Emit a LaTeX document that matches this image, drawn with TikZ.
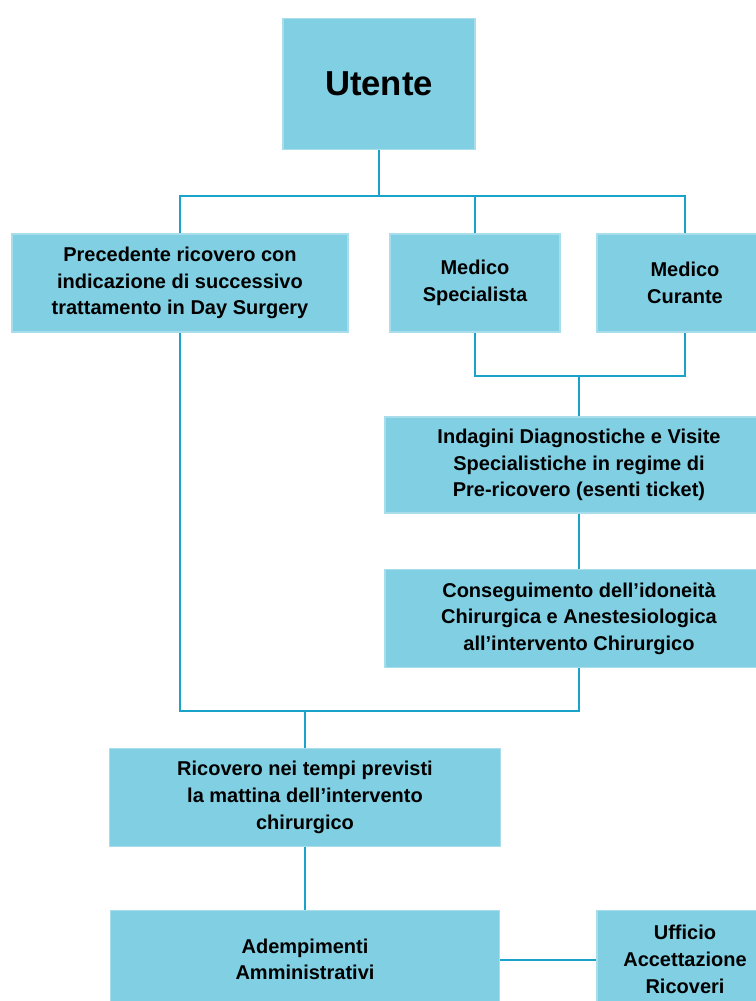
\documentclass[tikz,border=0pt]{standalone}
\usepackage{fontspec}
\setmainfont{Liberation Sans}
\usetikzlibrary{positioning}
\definecolor{BoxFill}{HTML}{80CFE3}
\definecolor{BoxEdge}{HTML}{A8DEEC}
\definecolor{LinkBlue}{HTML}{1AA3C9}
\tikzset{
    stage/.style={rectangle, draw=BoxEdge, fill=BoxFill, align=center, line width=0.8pt, inner sep=0pt, font=\bfseries\fontsize{15}{20}\selectfont},
    link/.style={draw=LinkBlue, line width=1.5pt}
}

\begin{document}
\begin{tikzpicture}[x=0.75pt, y=-0.75pt]
    \clip (0,0) rectangle (756,1001);
    % Nodes
    \node[stage, minimum width=144pt, minimum height=98pt, font=\bfseries\fontsize{26}{30}\selectfont] (utente) at (379,84) {Utente};
    \node[stage, minimum width=252pt, minimum height=73.5pt] (prec) at (180,283) {Precedente ricovero con\\indicazione di successivo\\trattamento in Day Surgery};
    \node[stage, minimum width=127.5pt, minimum height=73.5pt] (spec) at (475,283) {Medico\\Specialista};
    \node[stage, minimum width=132pt, minimum height=73.5pt] (cur) at (685,283) {Medico\\Curante};
    \node[stage, minimum width=291pt, minimum height=72pt] (indag) at (579,465) {Indagini Diagnostiche e Visite\\Specialistiche in regime di\\Pre-ricovero (esenti ticket)};
    \node[stage, minimum width=291pt, minimum height=73pt] (cons) at (579,618.5) {Conseguimento dell'idoneità\\Chirurgica e Anestesiologica\\all'intervento Chirurgico};
    \node[stage, minimum width=293pt, minimum height=74pt] (ric) at (305,797.5) {Ricovero nei tempi previsti\\la mattina dell'intervento\\chirurgico};
    \node[stage, minimum width=292pt, minimum height=74pt] (adem) at (305,959.5) {Adempimenti\\Amministrativi};
    \node[stage, minimum width=132pt, minimum height=74pt] (uff) at (685,959.5) {Ufficio\\Accettazione\\Ricoveri};

    % Joints
    \coordinate (topbus) at (379,196);
    \coordinate (midjoin) at (579,376);
    \coordinate (lowjoin) at (305,711);

    % Paths
    \draw[link] (utente) -- (topbus);
    \draw[link] (prec.north) |- (topbus) -| (cur.north);
    \draw[link] (spec.north) -- (spec.north |- topbus);
    \draw[link] (spec.south) |- (midjoin) -| (cur.south);
    \draw[link] (midjoin) -- (indag);
    \draw[link] (indag) -- (cons);
    \draw[link] (prec.south) |- (lowjoin) -| (cons.south);
    \draw[link] (lowjoin) -- (ric);
    \draw[link] (ric) -- (adem);
    \draw[link] (adem) -- (uff);
\end{tikzpicture}
\end{document}
